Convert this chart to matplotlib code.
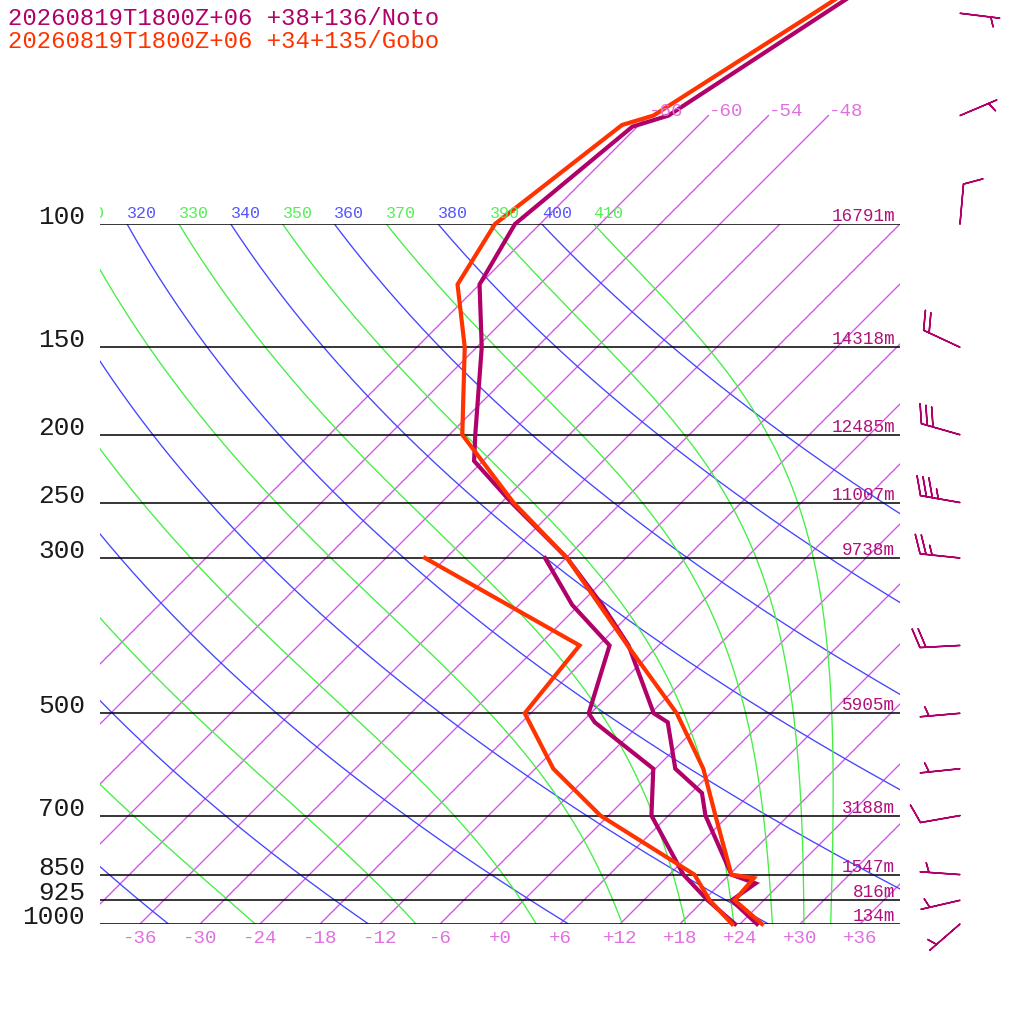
import numpy as np
import matplotlib
matplotlib.use('Agg')
import matplotlib.pyplot as plt
import matplotlib.transforms as mtransforms

# ---------------- data ----------------
title_noto = "20260819T1800Z+06 +38+136/Noto"
title_gobo = "20260819T1800Z+06 +34+135/Gobo"

# Noto (purple) profile
noto_p_T = [1000, 925, 875, 850, 700, 650, 600, 515, 500, 400, 350, 300, 250, 218, 200, 150, 122, 100, 72.6, 70, 50, 30]
noto_T = [25.7, 20.8, 21.5, 18.2, 9.7, 7.1, 2.0, -3.4, -5.7, -15.0, -21.7, -29.9, -41.0, -48.9, -51.4, -59.5, -66.0, -68.5, -66.5, -64.0, -58.6, -50.4]
noto_p_Td = [1000, 925, 850, 700, 600, 515, 500, 400, 350, 300]
noto_Td = [23.5, 18.4, 13.4, 4.3, -0.2, -10.7, -12.2, -16.9, -24.7, -32.1]

# Gobo (red) profile
gobo_p_T = [1000, 925, 860, 850, 700, 600, 500, 400, 300, 250, 200, 150, 122, 100, 72.2, 70, 50, 30]
gobo_T = [26.2, 21.1, 20.8, 18.2, 10.7, 4.8, -3.4, -15.1, -29.9, -40.8, -52.7, -61.2, -68.2, -70.5, -67.7, -65.5, -59.7, -51.2]
gobo_p_Td = [1000, 925, 850, 700, 600, 500, 400, 300]
gobo_Td = [23.2, 18.6, 14.5, -0.8, -10.2, -18.6, -19.9, -44.1]

# Noto winds
wind_p = [1000, 925, 850, 700, 600, 500, 400, 300, 250, 200, 150, 100, 70, 50]
wind_dir = [229, 257, 274, 260, 264, 265, 267, 276, 280, 286, 295, 5, 67, 97]
wind_spd = [5, 5, 5, 10, 5, 5, 20, 25, 35, 30, 20, 10, 5, 5]

# pressure levels / heights
p_levels = [100, 150, 200, 250, 300, 500, 700, 850, 925, 1000]
p_labels = ["100", "150", "200", "250", "300", "500", "700", "850", "925", "1000"]
h_labels = ["16791m", "14318m", "12485m", "11007m", "9738m", "5905m", "3188m", "1547m", "816m", "134m"]

isotherms = list(range(-66, 37, 6))
isotherms_high = [-66, -60, -54, -48]
temp_ticks = list(range(-36, 37, 6))
dry_thetas = list(range(200, 401, 20))
moist_thetas = list(range(210, 411, 20))
dry_theta_labels = [320, 340, 360, 380, 400]
moist_theta_labels = [310, 330, 350, 370, 390, 410]

# ---------------- colours ----------------
C_NOTO = '#b0006a'
C_GOBO = '#ff3300'
C_ISO = '#d84ff0'
C_ISOLAB = '#e070e0'
C_DRY = '#4444ff'
C_MOIST = '#44ee44'
C_HGT = '#b0107a'

FONT = 'Liberation Mono'

# ---------------- figure ----------------
fig = plt.figure(figsize=(10.24, 10.24), dpi=100)
fig.patch.set_facecolor('white')
ax = fig.add_axes([100 / 1024, 100 / 1024, 800 / 1024, 700 / 1024])
ax.set_yscale('log')
ax.set_xlim(-40, 40)
ax.set_ylim(1000, 100)
ax.set_axis_off()

skew = mtransforms.Affine2D(np.array([[1.0, 0.875, 0.0], [0.0, 1.0, 0.0], [0.0, 0.0, 1.0]]))
trans = ax.transScale + (ax.transLimits + skew + ax.transAxes)
clipbox = mtransforms.TransformedBbox(mtransforms.Bbox([[0, 0], [1, 1.4]]), ax.transAxes)

KAP = 287.04 / 1005.7
LW_BG = 0.95

# isotherms
for t in isotherms:
    ax.plot([t, t], [1000, 100], color=C_ISO, lw=LW_BG, transform=trans)
for t in isotherms_high:
    ax.plot([t, t], [100, 70], color=C_ISO, lw=LW_BG, transform=trans, clip_on=False)
    ax.text(t, 70, f"{t:d}", color=C_ISOLAB,
            fontsize=13.8, family=FONT, ha='left', va='baseline', transform=trans)

# dry adiabats
pp = np.logspace(np.log10(1000), np.log10(100), 300)
for th in dry_thetas:
    tt = th * (pp / 1000.0) ** KAP - 273.15
    ax.plot(tt, pp, color=C_DRY, lw=LW_BG, transform=trans)


# moist adiabats (integrated from 100 hPa downward)
def dTdlnp(T, p):
    Rd, cp, Lv, eps = 287.04, 1005.7, 2.501e6, 0.622
    tc = T - 273.15
    es = 6.112 * np.exp(17.67 * tc / (tc + 243.5))
    rs = eps * es / (p - es)
    return (Rd * T + Lv * rs) / (cp + Lv * Lv * rs * eps / (Rd * T * T))


lnp = np.linspace(np.log(100.0), np.log(1000.0), 400)
for th in moist_thetas:
    T = th * (0.1) ** KAP
    Ts = [T]
    for i in range(len(lnp) - 1):
        h = lnp[i + 1] - lnp[i]
        p0 = np.exp(lnp[i])
        p1 = np.exp(lnp[i] + h / 2)
        p2 = np.exp(lnp[i + 1])
        k1 = dTdlnp(T, p0)
        k2 = dTdlnp(T + h / 2 * k1, p1)
        k3 = dTdlnp(T + h / 2 * k2, p1)
        k4 = dTdlnp(T + h * k3, p2)
        T = T + h / 6 * (k1 + 2 * k2 + 2 * k3 + k4)
        Ts.append(T)
    ax.plot(np.array(Ts) - 273.15, np.exp(lnp), color=C_MOIST, lw=LW_BG, transform=trans)

# theta labels at 100 hPa
lab_tr = mtransforms.offset_copy(trans, fig=fig, x=0, y=6, units='dots')
for th in dry_theta_labels:
    t100 = th * 0.1 ** KAP - 273.15
    tx = ax.text(t100, 100, str(th), color='#5555ff', fontsize=12, family=FONT,
                 ha='left', va='baseline', transform=lab_tr)
    tx.set_clip_box(clipbox)
    tx.set_clip_on(True)
for th in moist_theta_labels:
    t100 = th * 0.1 ** KAP - 273.15
    tx = ax.text(t100, 100, str(th), color='#55ee55', fontsize=12, family=FONT,
                 ha='left', va='baseline', transform=lab_tr)
    tx.set_clip_box(clipbox)
    tx.set_clip_on(True)

# pressure lines & labels
ytr = ax.get_yaxis_transform()
hgt_tr = mtransforms.offset_copy(ytr, fig=fig, x=0, y=3, units='dots')
for p, pl, hl in zip(p_levels, p_labels, h_labels):
    ax.axhline(p, color='black', lw=1.1)
    ax.text(-0.01875, p, pl, fontsize=18.8, family=FONT, color='#1a1a1a',
            ha='right', va='baseline', transform=ytr, clip_on=False)
    ax.text(0.99375, p, hl, fontsize=12.7, family=FONT, color=C_HGT,
            ha='right', va='baseline', transform=hgt_tr, clip_on=False)

# bottom temperature labels
bot_tr = mtransforms.offset_copy(trans, fig=fig, x=0, y=-19, units='dots')
for t in temp_ticks:
    ax.text(t, 1000, f"{t:+d}", fontsize=13.8, family=FONT, color=C_ISOLAB,
            ha='center', va='baseline', transform=bot_tr, clip_on=False)

# profiles
ax.plot(noto_T, noto_p_T, color=C_NOTO, lw=3.0, transform=trans, clip_on=False, solid_joinstyle='miter')
ax.plot(noto_Td, noto_p_Td, color=C_NOTO, lw=3.0, transform=trans, clip_on=False, solid_joinstyle='miter')
ax.plot(gobo_T, gobo_p_T, color=C_GOBO, lw=3.0, transform=trans, clip_on=False, solid_joinstyle='miter')
ax.plot(gobo_Td, gobo_p_Td, color=C_GOBO, lw=3.0, transform=trans, clip_on=False, solid_joinstyle='miter')

# wind barbs
wd = np.radians(np.array(wind_dir, dtype=float))
ws = np.array(wind_spd, dtype=float)
u = -ws * np.sin(wd)
v = -ws * np.cos(wd)
ax.barbs(np.full(len(wind_p), 1.075), wind_p, u, v, transform=ytr, length=7.6,
         sizes=dict(spacing=0.15, height=0.47, width=0.34),
         color=C_NOTO, linewidth=1.1, clip_on=False)

# titles
fig.text(8 / 1024, 1 - 25 / 1024, title_noto, color=C_NOTO, fontsize=17.2, family=FONT,
         ha='left', va='baseline')
fig.text(8 / 1024, 1 - 48.3 / 1024, title_gobo, color=C_GOBO, fontsize=17.2, family=FONT,
         ha='left', va='baseline')

fig.savefig('out.png', dpi=100)
